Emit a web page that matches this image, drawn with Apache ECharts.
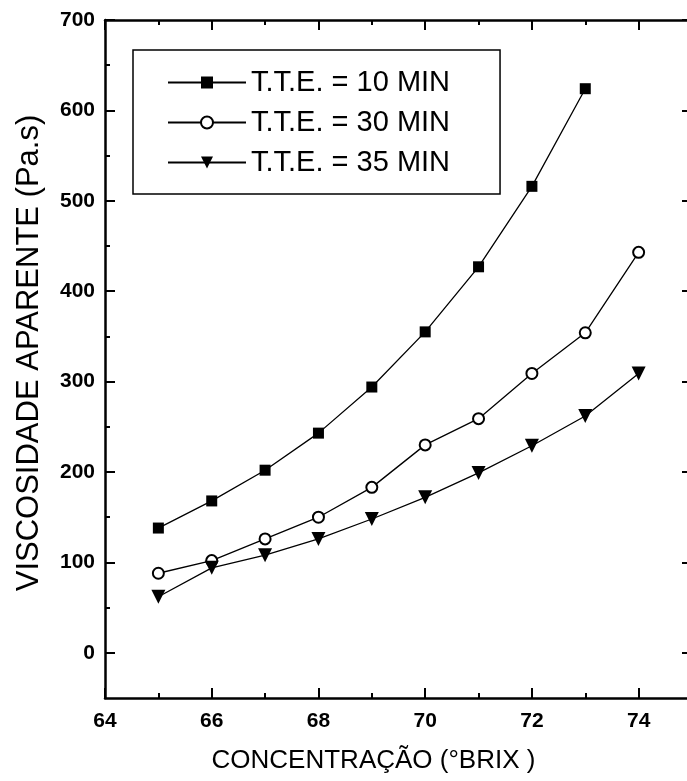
<!DOCTYPE html>
<html>
<head>
<meta charset="utf-8">
<script src="https://cdn.jsdelivr.net/npm/echarts@6/dist/echarts.min.js"></script>
<style>
  html, body { margin: 0; padding: 0; background: #fff; }
  #chart { width: 687px; height: 781px; }
</style>
</head>
<body>
<div id="chart"></div>
<script>
// data
const brix10 = [65, 66, 67, 68, 69, 70, 71, 72, 73];
const visc10 = [138, 168, 202, 243, 294, 355, 427, 516, 624];
const brix30 = [65, 66, 67, 68, 69, 70, 71, 72, 73, 74];
const visc30 = [88, 102, 126, 150, 183, 230, 259, 309, 354, 443];
const brix35 = [65, 66, 67, 68, 69, 70, 71, 72, 73, 74];
const visc35 = [62, 94, 108, 126, 148, 172, 199, 229, 262, 309];
const seriesNames = ["T.T.E. = 10 MIN", "T.T.E. = 30 MIN", "T.T.E. = 35 MIN"];

const xMajor = [64, 66, 68, 70, 72, 74];
const xMinor = [65, 67, 69, 71, 73];
const yMajor = [0, 100, 200, 300, 400, 500, 600, 700];
const yMinor = [50, 150, 250, 350, 450, 550, 650];

const pairs = (xs, ys) => xs.map((x, i) => [x, ys[i]]);

const labelFont = {
  color: "#000",
  fontFamily: "Liberation Sans, Arial, sans-serif",
  fontSize: 21,
  fontWeight: "bold",
};
const lineStyle = { color: "#000", width: 2.5 };

function xAx(position, ticks, len, showLine, showLabel) {
  return {
    type: "value", position: position, min: 64, max: 75,
    axisLine: { show: showLine, onZero: false, lineStyle: lineStyle },
    axisTick: { show: true, inside: true, length: len, customValues: ticks, lineStyle: { color: "#000", width: 2 } },
    axisLabel: { show: showLabel, customValues: ticks, margin: 13, ...labelFont },
    splitLine: { show: false },
  };
}
function yAx(position, ticks, len, showLine, showLabel) {
  return {
    type: "value", position: position, min: -50, max: 700,
    axisLine: { show: showLine, onZero: false, lineStyle: lineStyle },
    axisTick: { show: true, inside: true, length: len, customValues: ticks, lineStyle: { color: "#000", width: 2 } },
    axisLabel: { show: showLabel, customValues: ticks, margin: 10, ...labelFont },
    splitLine: { show: false },
  };
}

const xAxes = [
  xAx("bottom", xMajor, 10, true, true),
  xAx("bottom", xMinor, 5, false, false),
  xAx("top", xMajor, 10, true, false),
  xAx("top", xMinor, 5, false, false),
];
xAxes[0].name = "CONCENTRAÇÃO (°BRIX )";
xAxes[0].nameLocation = "middle";
xAxes[0].nameGap = 50;
xAxes[0].nameTextStyle = {
  color: "#000", fontFamily: "Liberation Sans, Arial, sans-serif", fontSize: 26,
  padding: [0, 50, 0, 0],
};

const yAxes = [
  yAx("left", yMajor, 10, true, true),
  yAx("left", yMinor, 5, false, false),
  yAx("right", yMajor, 10, true, false),
  yAx("right", yMinor, 5, false, false),
];
yAxes[0].name = "VISCOSIDADE APARENTE (Pa.s)";
yAxes[0].nameLocation = "middle";
yAxes[0].nameGap = 60;
yAxes[0].nameTextStyle = {
  color: "#000", fontFamily: "Liberation Sans, Arial, sans-serif", fontSize: 31,
  padding: [0, 0, 0, 12],
};

const chart = echarts.init(document.getElementById("chart"));
chart.setOption({
  animation: false,
  backgroundColor: "#fff",
  grid: { left: 105, top: 20, width: 587, height: 678, containLabel: false, outerBoundsMode: "none" },
  legend: {
    orient: "vertical",
    left: 133,
    top: 50,
    padding: [18, 50, 17, 34],
    itemGap: 11,
    itemWidth: 78,
    itemHeight: 15,
    borderColor: "#000",
    borderWidth: 1.5,
    backgroundColor: "#fff",
    textStyle: { color: "#000", fontFamily: "Liberation Sans, Arial, sans-serif", fontSize: 29 },
    data: seriesNames,
  },
  xAxis: xAxes,
  yAxis: yAxes,
  series: [
    {
      name: seriesNames[0], type: "line", data: pairs(brix10, visc10),
      symbol: "rect", symbolSize: 11,
      itemStyle: { color: "#000" },
      lineStyle: { color: "#000", width: 1.3 },
    },
    {
      name: seriesNames[1], type: "line", data: pairs(brix30, visc30),
      symbol: "emptyCircle", symbolSize: 11,
      itemStyle: { color: "#000", borderWidth: 1.5 },
      lineStyle: { color: "#000", width: 1.3 },
    },
    {
      name: seriesNames[2], type: "line", data: pairs(brix35, visc35),
      symbol: "triangle", symbolSize: 14, symbolRotate: 180,
      itemStyle: { color: "#000" },
      lineStyle: { color: "#000", width: 1.3 },
    },
  ],
});
</script>
</body>
</html>
